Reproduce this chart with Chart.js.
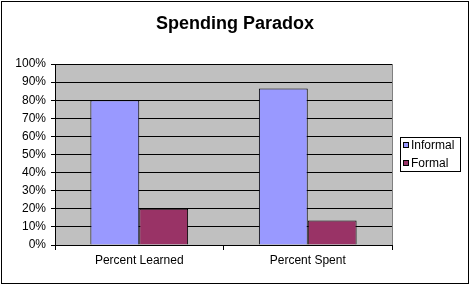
<!DOCTYPE html>
<html>
<head>
<meta charset="utf-8">
<script src="https://cdn.jsdelivr.net/npm/chart.js@4.4.1/dist/chart.umd.min.js"></script>
<style>
  html, body { margin: 0; padding: 0; background: #fff; }
  canvas { display: block; }
</style>
</head>
<body>
<canvas id="grafico" width="470" height="285"></canvas>
<script>
const categorias = ['Percent Learned', 'Percent Spent']
const informal = [80, 86.5]
const formal = [20, 13.5]
const series = ['Informal', 'Formal']
const colores = ['#9999FF', '#993366']

const fuente = 'Arial, "Liberation Sans", sans-serif'

// fondo gris del area de trazado + marco exterior + leyenda propia
const marco = {
  id: 'marco',
  beforeDraw: (chart) => {
    const { ctx, chartArea: a } = chart
    ctx.save()
    ctx.fillStyle = '#fff'
    ctx.fillRect(0, 0, chart.width, chart.height)
    ctx.fillStyle = '#C0C0C0'
    ctx.fillRect(a.left, a.top, a.right - a.left, a.bottom - a.top)
    ctx.restore()
  },
  afterDraw: (chart) => {
    const { ctx, chartArea: a } = chart
    ctx.save()
    // borde derecho gris del area
    ctx.strokeStyle = '#808080'
    ctx.lineWidth = 1
    ctx.beginPath()
    ctx.moveTo(Math.round(a.right) + 0.5, a.top)
    ctx.lineTo(Math.round(a.right) + 0.5, a.bottom)
    ctx.stroke()
    // marco exterior
    ctx.strokeStyle = '#000'
    ctx.strokeRect(1.5, 1.5, chart.width - 3, chart.height - 3)
    // leyenda
    ctx.fillStyle = '#fff'
    ctx.fillRect(400, 137, 61, 35)
    ctx.strokeRect(400.5, 137.5, 60, 34)
    ctx.font = '12px ' + fuente
    ctx.textBaseline = 'middle'
    chart.data.datasets.forEach((ds, i) => {
      const y = 145 + i * 18
      ctx.fillStyle = ds.backgroundColor
      ctx.fillRect(403, y - 3, 6, 6)
      ctx.strokeStyle = '#000'
      ctx.strokeRect(403.5, y - 2.5, 5, 5)
      ctx.fillStyle = '#000'
      ctx.fillText(ds.label, 411, y + 1)
    })
    ctx.restore()
  }
}

window.addEventListener('load', () => {
  Chart.defaults.font.family = fuente
  Chart.defaults.font.size = 12
  Chart.defaults.color = '#000'

  new Chart(document.getElementById('grafico'), {
    type: 'bar',
    data: {
      labels: categorias,
      datasets: [{
        label: series[0],
        data: informal,
        backgroundColor: colores[0],
        borderColor: '#000',
        borderWidth: 1
      }, {
        label: series[1],
        data: formal,
        backgroundColor: colores[1],
        borderColor: '#000',
        borderWidth: 1
      }]
    },
    options: {
      responsive: false,
      animation: false,
      events: [],
      layout: { padding: 0 },
      datasets: {
        bar: { categoryPercentage: 0.58, barPercentage: 1.0 }
      },
      plugins: {
        legend: { display: false },
        tooltip: { enabled: false },
        title: {
          display: true,
          text: 'Spending Paradox',
          font: { size: 18, weight: 'bold', lineHeight: 1.2 },
          color: '#000',
          padding: { top: 13, bottom: 29.4 }
        }
      },
      scales: {
        x: {
          grid: { drawOnChartArea: false, color: '#000', tickLength: 5 },
          border: { color: '#000' },
          ticks: { padding: 3, maxRotation: 0, autoSkip: false },
          afterFit: (s) => { s.height = 40 }
        },
        y: {
          min: 0,
          max: 100,
          ticks: { stepSize: 10, padding: 5, callback: v => v + '%' },
          grid: { color: '#000', tickLength: 4 },
          border: { color: '#000' },
          afterFit: (s) => { s.width = 55 }
        },
        y2: {
          position: 'right',
          display: true,
          grid: { display: false, drawTicks: false },
          ticks: { display: false },
          border: { display: false },
          afterFit: (s) => { s.width = 78 }
        }
      }
    },
    plugins: [marco]
  })
})
</script>
</body>
</html>
